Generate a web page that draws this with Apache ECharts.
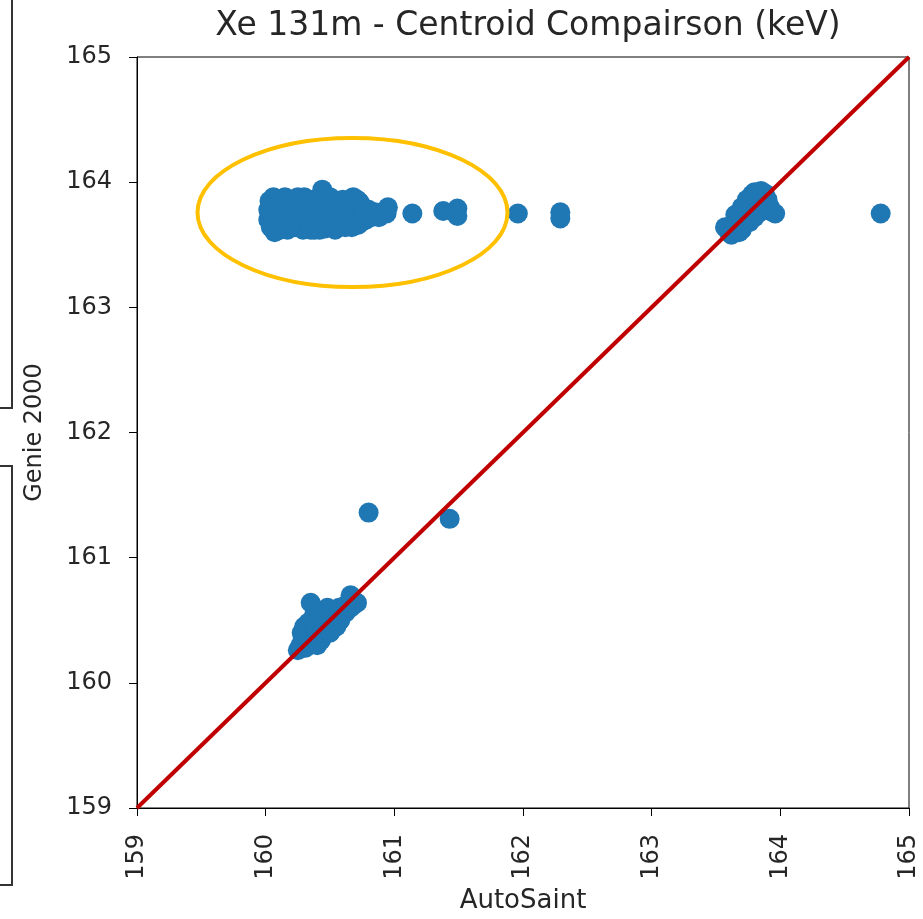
<!DOCTYPE html>
<html>
<head>
<meta charset="utf-8">
<script src="https://cdn.jsdelivr.net/npm/echarts@6/dist/echarts.min.js"></script>
<style>
html,body{margin:0;padding:0;background:#fff;}
#chart{width:923px;height:919px;}
</style>
</head>
<body>
<div id="chart"></div>
<script>
// ---- data ----
var titleText = 'Xe 131m - Centroid Compairson (keV)';
var xName = 'AutoSaint';
var yName = 'Genie 2000';
var axisMin = 159, axisMax = 165, axisStep = 1;

// cluster near Genie 163.75 (AutoSaint ~160-161) plus trailing points
var upperLeft = [
[160.02,163.70],[160.02,163.78],[160.03,163.85],[160.04,163.64],[160.05,163.74],[160.06,163.88],
[160.07,163.60],[160.08,163.80],[160.09,163.68],[160.10,163.76],[160.12,163.84],[160.13,163.66],
[160.14,163.72],[160.15,163.88],[160.17,163.62],[160.18,163.78],[160.20,163.70],[160.21,163.85],
[160.23,163.64],[160.24,163.75],[160.26,163.82],[160.27,163.68],[160.29,163.62],[160.30,163.88],
[160.31,163.74],[160.33,163.80],[160.34,163.66],[160.36,163.71],[160.37,163.86],[160.38,163.62],
[160.40,163.77],[160.41,163.68],[160.43,163.84],[160.44,163.94],[160.45,163.73],[160.46,163.63],
[160.48,163.80],[160.49,163.70],[160.50,163.88],[160.51,163.66],[160.53,163.76],[160.54,163.62],
[160.55,163.84],[160.57,163.72],[160.58,163.68],[160.60,163.86],[160.61,163.78],[160.62,163.64],
[160.64,163.74],[160.65,163.82],[160.66,163.68],[160.68,163.88],[160.69,163.72],[160.70,163.79],
[160.72,163.66],[160.73,163.84],[160.75,163.74],[160.76,163.80],[160.78,163.70],
[160.06,163.82],[160.11,163.62],[160.16,163.80],[160.19,163.64],[160.22,163.78],[160.25,163.88],
[160.28,163.74],[160.32,163.86],[160.35,163.62],[160.39,163.82],[160.42,163.62],[160.47,163.86],
[160.52,163.82],[160.56,163.64],[160.59,163.76],[160.63,163.84],[160.67,163.64],[160.71,163.86],
[160.74,163.68],[160.77,163.76],[160.80,163.78],[160.82,163.72],
[160.85,163.76],[160.88,163.72],[160.94,163.75],[160.95,163.80],[161.14,163.75],
[161.38,163.77],[161.49,163.79],[161.49,163.73],[161.96,163.75],[162.29,163.76],[162.29,163.71],
[164.78,163.75]
];
// cluster near the diagonal at ~163.75
var upperRight = [
[163.57,163.64],[163.60,163.60],[163.63,163.66],[163.65,163.62],[163.66,163.70],[163.68,163.66],
[163.70,163.74],[163.72,163.70],[163.73,163.80],[163.75,163.76],[163.76,163.84],[163.78,163.80],
[163.79,163.88],[163.81,163.86],[163.82,163.78],[163.84,163.90],[163.86,163.84],[163.88,163.91],
[163.90,163.86],[163.92,163.80],[163.94,163.76],[163.96,163.75],[163.70,163.62],[163.62,163.58],
[163.65,163.74],[163.70,163.80],[163.74,163.86],[163.78,163.90],[163.80,163.92],[163.85,163.93],
[163.88,163.80],[163.84,163.76],[163.80,163.72],[163.76,163.68],[163.68,163.60],[163.64,163.68]
];
// cluster near 160.4 plus two points near 161.3
var lower = [
[160.25,160.26],[160.27,160.30],[160.29,160.36],[160.31,160.28],[160.33,160.33],[160.35,160.40],
[160.35,160.64],[160.38,160.56],[160.40,160.38],[160.41,160.46],[160.43,160.34],[160.45,160.50],
[160.47,160.42],[160.49,160.54],[160.51,160.48],[160.53,160.56],[160.55,160.45],[160.55,160.52],
[160.57,160.60],[160.60,160.58],[160.62,160.62],[160.66,160.70],[160.68,160.62],[160.71,160.64],
[160.28,160.40],[160.30,160.45],[160.33,160.48],[160.36,160.50],[160.38,160.44],[160.40,160.30],
[160.44,160.40],[160.46,160.58],[160.48,160.60],[160.42,160.55],[160.50,160.40],[160.58,160.50],
[160.62,160.56],[160.66,160.60],
[160.80,161.36],[161.43,161.31]
];
// y = x reference line
var diagX = [159, 165];
var diagY = [159, 165];

var points = upperLeft.concat(upperRight, lower);
var diag = diagX.map(function (v, i) { return [v, diagY[i]]; });

var chart = echarts.init(document.getElementById('chart'));
var txt = '#262626';
var font = 'DejaVu Sans';
chart.setOption({
  animation: false,
  backgroundColor: '#fff',
  title: {
    text: titleText,
    left: 523,
    textAlign: 'center',
    top: 5,
    textStyle: {fontFamily: font, fontSize: 33, fontWeight: 'normal', color: txt}
  },
  grid: {left: 137, right: 14, top: 57, bottom: 111, show: true, borderColor: '#000', borderWidth: 1, backgroundColor: 'transparent'},
  xAxis: {
    type: 'value', min: axisMin, max: axisMax, interval: axisStep,
    name: xName, nameLocation: 'middle', nameGap: 80,
    nameTextStyle: {fontFamily: font, fontSize: 26, color: txt},
    axisLine: {lineStyle: {color: '#000', width: 1}},
    axisTick: {show: true, length: 8, lineStyle: {color: '#000'}},
    axisLabel: {rotate: 90, margin: 26, fontFamily: font, fontSize: 24, color: txt},
    splitLine: {show: false}
  },
  yAxis: {
    type: 'value', min: axisMin, max: axisMax, interval: axisStep,
    name: yName, nameLocation: 'middle', nameGap: 90, nameRotate: 90,
    nameTextStyle: {fontFamily: font, fontSize: 24, color: txt},
    axisLine: {lineStyle: {color: '#000', width: 1}},
    axisTick: {show: true, length: 8, lineStyle: {color: '#000'}},
    axisLabel: {margin: 25, fontFamily: font, fontSize: 24, color: txt},
    splitLine: {show: false}
  },
  series: [
    {type: 'scatter', data: points, symbol: 'circle', symbolSize: 20, itemStyle: {color: '#1f77b4', opacity: 1}, z: 2},
    {type: 'line', data: diag, symbol: 'none', lineStyle: {color: '#c00000', width: 4}, z: 3}
  ],
  graphic: [
    {type: 'ellipse', shape: {cx: 352.5, cy: 212.5, rx: 155, ry: 74.5}, style: {fill: 'none', stroke: '#ffc000', lineWidth: 4}, z: 10},
    {type: 'polyline', shape: {points: [[12, 0], [12, 408], [0, 408]]}, style: {fill: 'none', stroke: '#333', lineWidth: 2}},
    {type: 'polyline', shape: {points: [[0, 466], [12, 466], [12, 885], [0, 885]]}, style: {fill: 'none', stroke: '#333', lineWidth: 2}}
  ]
});
</script>
</body>
</html>
